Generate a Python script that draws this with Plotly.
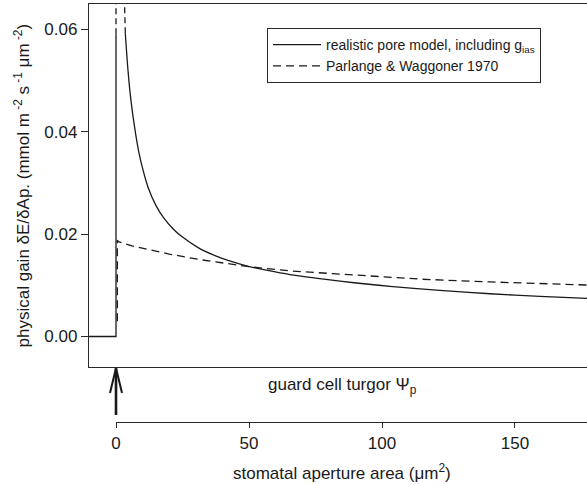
import plotly.graph_objects as go

# ---------------- data ----------------
# realistic pore model: step at zero aperture, then decaying curve
step_x = [-20, 0, 0]
step_y = [0.0, 0.0, 0.059]
step_top_x = [0, 0]
step_top_y = [0.059, 0.070]

realistic_x = [3.5, 4.5, 5.6, 7.0, 8.5, 10.0, 12.0, 15.0, 18.0, 21.5, 25.0, 31.0,
               37.2, 43.0, 49.7, 57.0, 65.4, 75.0, 84.2, 95.0, 103.0, 121.8,
               140.6, 159.4, 177.1]
realistic_y = [0.0592, 0.0520, 0.0462, 0.0408, 0.0362, 0.0328, 0.0292, 0.0256,
               0.0231, 0.0210, 0.0194, 0.0173, 0.0158, 0.0147, 0.0137, 0.0129,
               0.0121, 0.0114, 0.0108, 0.0102, 0.0098, 0.0090, 0.00835, 0.00782,
               0.00745]
realistic_top_x = [3.5, 3.2, 2.9]
realistic_top_y = [0.0592, 0.0650, 0.0710]

# Parlange & Waggoner 1970
parlange_x = [0.5, 0.5, 0.9, 2.1, 6.0, 12.8, 20.0, 31.6, 37.2, 50.4, 65.4, 88.0,
              103.0, 114.3, 140.6, 177.1]
parlange_y = [0.0030, 0.0188, 0.0185, 0.0183, 0.0177, 0.0169, 0.0161, 0.0150,
              0.0146, 0.0136, 0.0128, 0.0120, 0.0115, 0.0112, 0.01065, 0.01005]

y_ticks = [0.0, 0.02, 0.04, 0.06]
x_ticks = [0, 50, 100, 150]

# ---------------- style ----------------
FONT = "Liberation Sans, Arial, sans-serif"
INK = "#1a1a1a"
AX = "#2a2a2a"
X_RANGE = [-10.15, 177.07]
Y_RANGE = [-0.00601, 0.0649]

fig = go.Figure()

fig.add_trace(go.Scatter(x=step_x, y=step_y, mode="lines",
                         line=dict(color=INK, width=1.3),
                         name="realistic pore model, including g<sub>ias</sub>",
                         legendgroup="a"))
fig.add_trace(go.Scatter(x=realistic_x, y=realistic_y, mode="lines",
                         line=dict(color=INK, width=1.3, shape="spline", smoothing=0.8),
                         showlegend=False, legendgroup="a"))
fig.add_trace(go.Scatter(x=step_top_x, y=step_top_y, mode="lines",
                         line=dict(color=INK, width=1.3, dash="6px,4px"),
                         showlegend=False, legendgroup="a"))
fig.add_trace(go.Scatter(x=realistic_top_x, y=realistic_top_y, mode="lines",
                         line=dict(color=INK, width=1.3, dash="6px,4px"),
                         showlegend=False, legendgroup="a"))
fig.add_trace(go.Scatter(x=parlange_x, y=parlange_y, mode="lines",
                         line=dict(color=INK, width=1.3, dash="8px,5px"),
                         name="Parlange & Waggoner 1970"))
# invisible trace that carries the lower (aperture) axis
fig.add_trace(go.Scatter(x=[0, 170], y=[None, None], xaxis="x2", yaxis="y",
                         mode="lines", showlegend=False, hoverinfo="skip"))

# arrow at zero aperture (open V head)
for (x0, x1, y0, y1, w) in [(0, 0, 0.0167, 0.1292, 2.6),
                            (0, -6, 0.1292, 0.0694, 2.0),
                            (0, 6, 0.1292, 0.0694, 2.0)]:
    fig.add_shape(type="line", xref="x", yref="paper", xsizemode="pixel", xanchor=0,
                  x0=x0, x1=x1, y0=y0, y1=y1, line=dict(color=INK, width=w))

fig.add_annotation(text="guard cell turgor \u03a8<sub>p</sub>", xref="paper", yref="paper",
                   x=(342 - 89) / 498, y=(422 - 399) / 418, showarrow=False,
                   font=dict(family=FONT, size=17, color=INK))
fig.add_annotation(text="stomatal aperture area (\u03bcm<sup>2</sup>)", xref="paper", yref="paper",
                   x=(342 - 89) / 498, y=(422 - 485) / 418, showarrow=False,
                   font=dict(family=FONT, size=17, color=INK))

fig.update_layout(
    width=587, height=484,
    margin=dict(l=89, r=0, t=4, b=62),
    paper_bgcolor="white", plot_bgcolor="rgba(0,0,0,0)",
    font=dict(family=FONT, size=17, color=INK),
    showlegend=True,
    legend=dict(x=(267 - 89) / 498, y=(422 - 28) / 418, xanchor="left", yanchor="top",
                bordercolor=AX, borderwidth=1, bgcolor="white", itemwidth=48,
                font=dict(family=FONT, size=14, color=INK), tracegroupgap=0),
    xaxis=dict(domain=[0, 1], range=X_RANGE, anchor="y", showline=True, mirror=True,
               linecolor=AX, linewidth=1.3, ticks="", showticklabels=False,
               showgrid=False, zeroline=False),
    xaxis2=dict(domain=[(116 - 89) / 498, 1], range=[0, X_RANGE[1]], anchor="free",
                position=0, showline=True, linecolor=AX, linewidth=1.3,
                ticks="outside", ticklen=5, tickcolor=AX, tickvals=x_ticks,
                tickfont=dict(size=17), showgrid=False, zeroline=False),
    yaxis=dict(domain=[(422 - 367.3) / 418, 1], range=Y_RANGE, showline=True,
               linecolor=AX, linewidth=1.3, ticks="outside", ticklen=7, tickcolor=AX,
               tickvals=y_ticks, tickformat=".2f", tickfont=dict(size=17),
               showgrid=False, zeroline=False,
               title=dict(text="physical gain \u03b4E/\u03b4Ap. (mmol m<sup> -2</sup> s<sup> -1</sup> \u03bcm<sup> -2</sup>)",
                          font=dict(size=17), standoff=10)),
)

fig.write_html("out.html")
